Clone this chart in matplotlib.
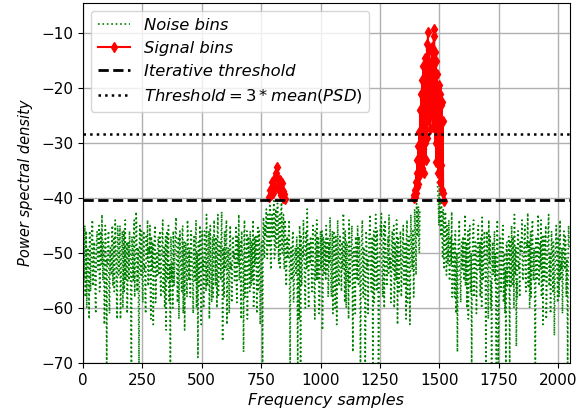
import numpy as np
import matplotlib
matplotlib.use("Agg")
import matplotlib.pyplot as plt

nan = np.nan

# PSD of the noise bins (dB), samples 0, 4, 8, ...
noise_psd_a = [
    -47, -55, -45, -52, -60, -49, -54, -46, -57, -50, -44, -53, -48, -58, -51, -46,
    -53, -45, -56, -48, -43, -55, -50, -59, -47, -70, -52, -46, -61, -49, -54, -45,
    -51, -57, -44, -50, -62, -47, -53, -45, -56, -49, -60, -46, -52, -55, -48, -58,
    -50, -46, -53, -70, -48, -55, -44, -51, -42.5, -57, -49, -70, -45, -54, -47, -59,
    -46, -52, -61, -48, -44, -55, -50, -57, -47, -53, -63, -49, -45, -56, -51, -48,
    -54, -46, -58, -50, -44, -53, -60, -47, -51, -55, -45, -59, -70, -49, -52, -46,
    -56, -48, -43.5, -54, -50, -62, -46, -52, -57, -45, -51, -64, -48, -55, -44, -53,
    -49, -58, -46, -52, -61, -47, -55, -44, -50, -69, -54, -45, -57, -48, -53, -60,
    -46, -52, -43, -56, -49, -62, -45, -54, -50, -58, -44, -51, -47, -60, -43, -53,
    -48, -55, -42.5, -66, -51, -46, -53, -44, -57, -49, -61, -45, -52, -56, -47, -50,
    -54, -45, -59, -48, -43, -52, -57, -46, -50, -68, -44, -55, -49, -62, -47, -53,
    -46, -56, -50, -44, -58, -52, -47, -61, -45, -53, -49, -55, -48, -70, -43.5, -51,
    -47, -42, -51, -44, -49, -41, -53, -43, -47, -40.5, -50, -42, -46, -41, -52, -43,
    -48, -40.8, -50, -43, -53, -45, -56, -47, -51, -44, -70, -49, -55, -46, -58, -50,
    -54, -47, -70, -51, -45, -70, -56, -49, -44, -53, -60, -46, -42, -55, -48, -52,
    -50, -57, -45, -53, -62, -48, -44, -55, -51, -59, -46, -52, -64, -47, -54, -49,
    -45, -53, -58, -48, -43.5, -56, -50, -61, -46, -52, -47, -63, -44, -55, -49, -51,
    -57, -50, -42.8, -54, -46, -60, -48, -53, -44, -56, -51, -45, -68, -49, -55, -47,
    -52, -45, -56, -48, -70, -51, -44, -58, -49, -70, -46, -53, -61, -47, -43, -55,
    -50, -70, -46, -54, -43, -57, -49, -70, -52, -45, -42.8, -55, -48, -60, -44, -51,
    -56, -47, -43, -53, -59, -48, -51, -45, -57, -50, -44, -63, -49, -54, -46, -58,
    -52, -45, -55, -48, -62, -44, -51, -47, -63, -43, -50, -46, -58, -42, -48, -41,
    -47, -41.5, -50, nan, nan, nan, nan, nan, nan, nan, nan, nan, nan, nan, nan, nan,
    nan, nan, nan, nan, nan, -37, -41, -36.5, -44, -40.5, -48, -42, -53, -43, -50, -45,
    -52, -44, -55, -47, -42.5, -54, -49, -58, -46, -51, -68, -48, -44, -56, -50, -53,
    -47, -55, -43, -51, -60, -46, -53, -45, -57, -70, -49, -44, -54, -48, -61, -50,
    -45, -53, -58, -47, -43.5, -55, -49, -51, -70, -46, -56, -44, -52, -60, -70, -48,
    -54, -46, -50, -70, -44, -70, -52, -47, -57, -49, -45, -55, -61, -70, -48, -53,
    -47, -70, -51, -45, -56, -49, -43, -54, -67, -58, -46, -52, -48, -50, -44, -55,
    -50, -45, -57, -48, -42.7, -53, -60, -46, -51, -44, -55, -49, -70, -47, -52, -43,
    -56, -48, -44, -53, -63, -47, -50, -45, -58, -49, -43, -54, -61, -46, -52, -48,
    -65, -50, -45, -54, -47, -58, -44, -52, -49, -56, -46, -53, -48, -51, -70, -45,
]
# PSD of the noise bins (dB), samples 2, 6, 10, ...
noise_psd_b = [
    -51, -48, -58, -46, -53, -50, -62, -47, -52, -45, -56, -49, -54, -61, -47, -53,
    -49, -57, -46, -52, -50, -48, -63, -45, -55, -51, -47, -58, -50, -53, -46, -56,
    -47, -53, -50, -59, -45, -54, -48, -62, -51, -46, -53, -57, -44, -50, -61, -48,
    -55, -49, -62, -47, -52, -46, -58, -50, -45, -53, -60, -48, -51, -46, -56, -50,
    -53, -58, -47, -51, -56, -49, -45, -62, -52, -48, -55, -46, -59, -50, -54, -47,
    -48, -55, -51, -46, -57, -49, -53, -64, -46, -50, -58, -52, -47, -55, -60, -49,
    -51, -45, -53, -59, -47, -52, -49, -56, -46, -61, -48, -53, -50, -58, -47, -55,
    -53, -46, -51, -57, -49, -54, -47, -60, -52, -48, -56, -50, -63, -46, -51, -55,
    -50, -57, -48, -53, -46, -55, -51, -59, -47, -52, -49, -56, -53, -46, -58, -50,
    -52, -47, -55, -49, -58, -51, -46, -63, -50, -54, -48, -53, -59, -47, -51, -55,
    -49, -56, -47, -52, -55, -48, -62, -50, -53, -47, -58, -51, -46, -54, -50, -57,
    -52, -48, -55, -60, -47, -51, -54, -49, -57, -46, -63, -50, -53, -47, -49, -45,
    -45, -50, -43, -48, -41.5, -52, -44, -47, -42, -51, -43.5, -49, -41, -48, -44, -53,
    -42, -49, -46, -52, -44, -55, -48, -51, -46, -57, -50, -53, -47, -59, -52, -49,
    -50, -58, -49, -62, -52, -47, -55, -51, -48, -57, -46, -53, -49, -60, -51, -47,
    -54, -48, -52, -58, -46, -55, -50, -47, -61, -49, -53, -46, -57, -51, -48, -55,
    -50, -47, -55, -52, -49, -58, -46, -54, -51, -60, -48, -53, -50, -56, -47, -52,
    -48, -53, -46, -59, -51, -48, -55, -62, -49, -52, -47, -56, -50, -53, -61, -48,
    -55, -50, -47, -53, -58, -46, -52, -49, -56, -62, -48, -51, -54, -46, -50, -57,
    -47, -53, -59, -48, -51, -46, -55, -61, -49, -47, -52, -58, -45, -53, -50, -56,
    -49, -54, -47, -51, -56, -46, -53, -60, -48, -55, -50, -47, -57, -52, -49, -54,
    -48, -56, -50, -53, -46, -59, -48, -52, -55, -47, -53, -49, -51, -45, -54, -43,
    -44, -49, -42, nan, nan, nan, nan, nan, nan, nan, nan, nan, nan, nan, nan, nan,
    nan, nan, nan, nan, nan, -39, -45, -38.5, -47, -42, -51, -44, -49, -42.5, -54, -47,
    -49, -55, -47, -52, -58, -48, -53, -46, -61, -50, -54, -47, -52, -59, -48, -51,
    -53, -49, -56, -48, -52, -62, -47, -55, -50, -53, -46, -58, -51, -49, -55, -47,
    -52, -48, -54, -60, -49, -51, -46, -57, -53, -49, -62, -50, -47, -55, -51, -53,
    -49, -55, -58, -48, -52, -63, -47, -51, -54, -46, -59, -50, -53, -48, -56, -50,
    -53, -48, -56, -51, -47, -60, -52, -49, -55, -46, -53, -58, -50, -47, -54, -51,
    -47, -54, -51, -49, -56, -48, -52, -58, -46, -53, -50, -61, -48, -55, -49, -51,
    -50, -53, -58, -47, -51, -55, -48, -62, -52, -46, -56, -50, -54, -49, -57, -51,
    -56, -48, -52, -59, -50, -47, -55, -53, -61, -49, -52, -47, -58, -54, -50, -49,
]

# signal bins: first peak (every 4th sample), second peak (every 2nd sample)
sig1_start, sig1_step = 784, 4
sig1_psd = [-39.8, -38.5, -39.5, -37.0, -39.0, -36.5, -38.0, -35.5, -34.3,
            -36.5, -38.5, -36.8, -39.5, -37.3, -38.8, -40.0, -39.2, -40.2]
sig2_start, sig2_step = 1392, 2
sig2_psd = [-39.5, -40.0, -38.5, -39.8, -37.0, -39.0, -35.5, -38.0, -33.0, -37.5,
            -30.5, -36.0, -28.0, -35.0, -24.0, -33.5, -21.0, -34.5, -18.5, -31.0,
            -16.0, -35.5, -19.0, -30.0, -14.5, -33.0, -17.0, -29.0, -12.0, -26.0,
            -9.8, -20.5, -13.0, -24.0, -15.5, -27.5, -18.0, -22.0, -12.5, -25.0,
            -16.0, -27.0, -10.5, -9.2, -21.0, -13.5, -30.0, -15.0, -33.5, -17.5,
            -29.0, -20.0, -35.5, -19.5, -31.0, -21.0, -37.0, -23.0, -34.0, -22.5,
            -38.5, -26.0, -39.0, -40.5]

iter_threshold = -40.3
mean_threshold = -28.3

noise_psd = np.empty(len(noise_psd_a) * 2)
noise_psd[0::2] = noise_psd_a
noise_psd[1::2] = noise_psd_b
noise_x = np.arange(len(noise_psd)) * 2
sig1_x = sig1_start + np.arange(len(sig1_psd)) * sig1_step
sig2_x = sig2_start + np.arange(len(sig2_psd)) * sig2_step

fig = plt.figure(figsize=(5.8, 4.12), dpi=100)
ax = fig.add_axes([0.143, 0.119, 0.839, 0.874])

ax.plot(noise_x, noise_psd, 'g:', linewidth=1.2, label='Noise bins')
ax.plot(sig1_x, sig1_psd, 'r-', marker='d', markersize=5.5, linewidth=1.5, label='Signal bins')
ax.plot(sig2_x, sig2_psd, 'r-', marker='d', markersize=5.5, linewidth=1.5)
ax.axhline(iter_threshold, color='k', linestyle='--', linewidth=2, label='Iterative threshold')
ax.axhline(mean_threshold, color='k', linestyle=':', linewidth=1.8,
           label=r'$Threshold = 3 * mean(PSD)$')

ax.set_xlim(0, 2048)
ax.set_ylim(-70, -4.5)
ax.grid(True, color='#b0b0b0', linewidth=1)
ax.tick_params(labelsize=11)
ax.set_xlabel('Frequency samples', fontsize=11.5, fontstyle='italic')
ax.set_ylabel('Power spectral density', fontsize=10.5, fontstyle='italic', labelpad=6)
leg = ax.legend(loc='upper left', fontsize=11.8)
for t in leg.get_texts():
    t.set_fontstyle('italic')

fig.savefig('out.png', dpi=100)
